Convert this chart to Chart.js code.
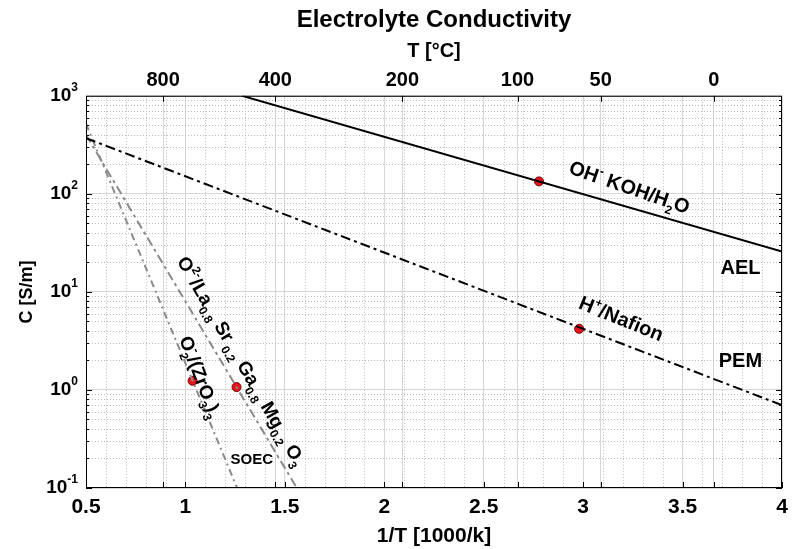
<!DOCTYPE html>
<html>
<head>
<meta charset="utf-8">
<script src="https://cdn.jsdelivr.net/npm/chart.js@4.4.1/dist/chart.umd.min.js"></script>
<style>
    html, body { margin: 0; padding: 0; background: #fff; }
</style>
</head>
<body>
<canvas id="chart" width="795" height="549"></canvas>
<script>
// axis ticks
const xTicks = [0.5, 1, 1.5, 2, 2.5, 3, 3.5, 4];
const yTicks = [0.1, 1, 10, 100, 1000];
const yTickExp = ['-1', '0', '1', '2', '3'];
const topTickPos = [0.888, 1.452, 2.091, 2.670, 3.088, 3.657];
const topTickLabels = ['800', '400', '200', '100', '50', '0'];

// conductivity lines (1/T, C) - end points
const aelX = [1.285, 4.0];
const aelC = [1000, 25.8];
const pemX = [0.5, 4.0];
const pemC = [370, 0.7];
const lsgmX = [0.5, 1.56];
const lsgmC = [400, 0.1];
const yszX = [0.5, 1.26];
const yszC = [520, 0.1];

// red marker points
const dotX = [2.778, 2.98, 1.257, 1.036];
const dotC = [134, 4.2, 1.07, 1.24];

const FONT = '"Liberation Sans", Arial, sans-serif';

const pts = (xs, cs) => xs.map((v, i) => ({ x: v, y: cs[i] }));

// text annotations, anchored in data units
const notes = [
    { x: 3.234, c: 118, deg: 19, size: 20, parts: [['OH', 'n'], ['-', 'sup'], [' KOH/H', 'n'], ['2', 'sub'], ['O', 'n']] },
    { x: 3.193, c: 5.4, deg: 22, size: 20, parts: [['H', 'n'], ['+', 'sup'], ['/Nafion', 'n']] },
    { x: 3.791, c: 18, deg: 0, size: 20, parts: [['AEL', 'n']] },
    { x: 3.791, c: 2.02, deg: 0, size: 20, parts: [['PEM', 'n']] },
    { x: 1.334, c: 0.198, deg: 0, size: 15, parts: [['SOEC', 'n']] },
    { x: 1.284, c: 1.98, deg: 60, size: 19, parts: [['O', 'n'], ['2-', 'sup'], ['/La', 'n'], ['0.8', 'sub'], [' Sr', 'n'], [' 0.2', 'sub'], [' Ga', 'n'], ['0.8', 'sub'], [' Mg', 'n'], ['0.2', 'sub'], [' O', 'n'], ['3', 'sub']] },
    { x: 1.078, c: 1.36, deg: 69, size: 19, parts: [['O', 'n'], ['2', 'subsup', '-'], ['/(ZrO', 'n'], ['3', 'sub'], [')', 'n'], ['3', 'sub']] }
];

function richText(ctx, parts, cx, cy, deg, size) {
    const small = Math.round(size * 0.62);
    const font = s => 'bold ' + s + 'px ' + FONT;
    const widths = parts.map(p => {
        if (p[1] === 'n') { ctx.font = font(size); return ctx.measureText(p[0]).width; }
        ctx.font = font(small);
        if (p[1] === 'subsup') return Math.max(ctx.measureText(p[0]).width, ctx.measureText(p[2]).width);
        return ctx.measureText(p[0]).width;
    });
    const total = widths.reduce((s, v) => s + v, 0);
    ctx.save();
    ctx.translate(cx, cy);
    ctx.rotate(deg * Math.PI / 180);
    ctx.textAlign = 'left';
    ctx.textBaseline = 'alphabetic';
    ctx.fillStyle = '#000';
    let px = -total / 2;
    const base = size * 0.36;
    parts.forEach((p, i) => {
        if (p[1] === 'n') {
            ctx.font = font(size);
            ctx.fillText(p[0], px, base);
        } else {
            ctx.font = font(small);
            if (p[1] === 'sub' || p[1] === 'subsup') ctx.fillText(p[0], px, base + size * 0.3);
            if (p[1] === 'sup') ctx.fillText(p[0], px, base - size * 0.45);
            if (p[1] === 'subsup') ctx.fillText(p[2], px, base - size * 0.45);
        }
        px += widths[i];
    });
    ctx.restore();
}

const extras = {
    id: 'extras',
    beforeDatasetsDraw(chart) {
        const { ctx, chartArea: a, scales: { x, y } } = chart;
        ctx.save();
        ctx.strokeStyle = '#bcbcbc';
        ctx.lineWidth = 1;
        ctx.setLineDash([1, 2]);
        ctx.beginPath();
        // minor vertical grid every 0.1
        for (let i = 1; i < 35; i++) {
            if (i % 5 === 0) continue;
            const px = Math.round(x.getPixelForValue(0.5 + i * 0.1)) + 0.5;
            ctx.moveTo(px, a.top);
            ctx.lineTo(px, a.bottom);
        }
        // minor horizontal grid (log)
        for (let d = -1; d < 3; d++) {
            for (let m = 2; m <= 9; m++) {
                const py = Math.round(y.getPixelForValue(m * Math.pow(10, d))) + 0.5;
                ctx.moveTo(a.left, py);
                ctx.lineTo(a.right, py);
            }
        }
        ctx.stroke();
        ctx.restore();
    },
    afterDatasetsDraw(chart) {
        const { ctx, chartArea: a, scales: { x, y } } = chart;
        ctx.save();
        ctx.strokeStyle = '#000';
        ctx.lineWidth = 1;
        ctx.setLineDash([]);
        ctx.strokeRect(a.left + 0.5, a.top + 0.5, a.width - 1, a.height - 1);

        ctx.beginPath();
        xTicks.concat(topTickPos).forEach(v => {
            const px = Math.round(x.getPixelForValue(v)) + 0.5;
            ctx.moveTo(px, a.bottom);
            ctx.lineTo(px, a.bottom - 6);
        });
        topTickPos.forEach(v => {
            const px = Math.round(x.getPixelForValue(v)) + 0.5;
            ctx.moveTo(px, a.top);
            ctx.lineTo(px, a.top + 6);
        });
        for (let d = -1; d < 3; d++) {
            for (let m = 1; m <= 9; m++) {
                const py = Math.round(y.getPixelForValue(m * Math.pow(10, d))) + 0.5;
                const len = m === 1 ? 6 : 3;
                ctx.moveTo(a.left, py); ctx.lineTo(a.left + len, py);
                ctx.moveTo(a.right, py); ctx.lineTo(a.right - len, py);
            }
        }
        ctx.stroke();

        // y tick labels 10^n
        ctx.fillStyle = '#000';
        ctx.textBaseline = 'middle';
        yTicks.forEach((v, i) => {
            const py = y.getPixelForValue(v);
            ctx.font = 'bold 12px ' + FONT;
            ctx.textAlign = 'left';
            const ew = ctx.measureText(yTickExp[i]).width;
            const right = a.left - 8;
            ctx.fillText(yTickExp[i], right - ew, py - 8);
            ctx.font = 'bold 19px ' + FONT;
            ctx.textAlign = 'right';
            ctx.fillText('10', right - ew, py);
        });

        notes.forEach(n => {
            richText(ctx, n.parts, x.getPixelForValue(n.x), y.getPixelForValue(n.c), n.deg, n.size);
        });
        ctx.restore();
    }
};

new Chart(document.getElementById('chart'), {
    type: 'scatter',
    data: {
        datasets: [
            { label: 'AEL', data: pts(aelX, aelC), showLine: true, borderColor: '#000', borderWidth: 2, pointRadius: 0 },
            { label: 'PEM', data: pts(pemX, pemC), showLine: true, borderColor: '#000', borderWidth: 2, borderDash: [10, 4, 3, 4], pointRadius: 0 },
            { label: 'LSGM', data: pts(lsgmX, lsgmC), showLine: true, borderColor: '#8a8a8a', borderWidth: 2, borderDash: [9, 4, 3, 4], pointRadius: 0 },
            { label: 'YSZ', data: pts(yszX, yszC), showLine: true, borderColor: '#8a8a8a', borderWidth: 2, borderDash: [7, 4, 2, 4], pointRadius: 0 },
            { label: 'points', data: pts(dotX, dotC), showLine: false, pointRadius: 4.5, pointBackgroundColor: '#e8141b', pointBorderColor: '#700000', pointBorderWidth: 1 }
        ]
    },
    options: {
        responsive: false,
        animation: false,
        devicePixelRatio: 1,
        layout: { padding: { left: 0, right: 13, top: 0, bottom: 0 } },
        plugins: {
            legend: { display: false },
            tooltip: { enabled: false },
            title: {
                display: true,
                fullSize: false,
                text: 'Electrolyte Conductivity',
                color: '#000',
                font: { family: FONT, size: 24, weight: 'bold' },
                padding: { top: 6, bottom: 0 }
            }
        },
        scales: {
            x: {
                type: 'linear', position: 'bottom', min: 0.5, max: 4,
                afterBuildTicks: s => { s.ticks = xTicks.map(v => ({ value: v })); },
                afterFit: s => { s.height = 61; },
                grid: { color: '#d6d6d6', drawTicks: false },
                border: { display: false },
                ticks: { padding: 7, color: '#000', font: { family: FONT, size: 21, weight: 'bold' }, maxRotation: 0, autoSkip: false, callback: v => String(v) },
                title: { display: true, text: '1/T [1000/k]', color: '#000', font: { family: FONT, size: 21, weight: 'bold' }, padding: { top: 0, bottom: 0 } }
            },
            x2: {
                type: 'linear', position: 'top', min: 0.5, max: 4,
                afterBuildTicks: s => { s.ticks = topTickPos.map(v => ({ value: v })); },
                afterFit: s => { s.height = 61; },
                grid: { color: '#d6d6d6', drawTicks: false },
                border: { display: false },
                ticks: { padding: 3, color: '#000', font: { family: FONT, size: 20, weight: 'bold' }, maxRotation: 0, autoSkip: false, callback: (v, i) => topTickLabels[i] },
                title: { display: true, text: 'T [°C]', color: '#000', font: { family: FONT, size: 20, weight: 'bold' }, padding: { top: 5, bottom: 0 } }
            },
            y: {
                type: 'logarithmic', min: 0.1, max: 1000,
                afterBuildTicks: s => { s.ticks = yTicks.map(v => ({ value: v })); },
                afterFit: s => { s.width = 86; },
                grid: { color: '#d6d6d6', drawTicks: false },
                border: { display: false },
                ticks: { display: false },
                title: { display: true, text: 'C [S/m]', color: '#000', font: { family: FONT, size: 18, weight: 'bold' }, padding: { top: 16, bottom: 0 } }
            }
        }
    },
    plugins: [extras]
});
</script>
</body>
</html>
